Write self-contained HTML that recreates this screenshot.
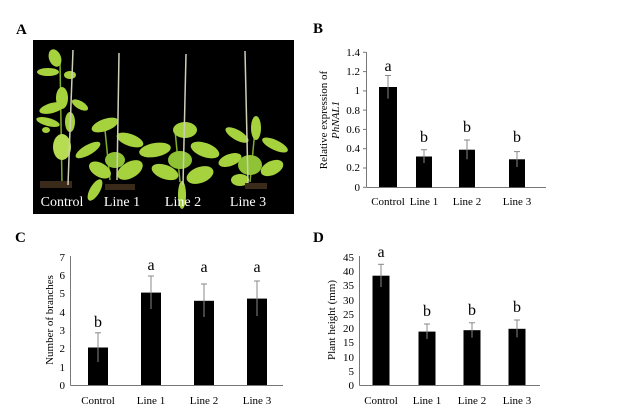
<!DOCTYPE html>
<html><head><style>body{margin:0;background:#fff}svg{display:block}</style></head><body>
<svg width="626" height="417" viewBox="0 0 626 417" font-family="Liberation Serif, serif" fill="#000">
<!-- Panel A -->
<text x="16" y="34" font-size="15" font-weight="bold">A</text>
<rect x="33" y="40" width="261" height="174" fill="#000"/>
<g stroke="#7fae2a" stroke-width="1.5">
<line x1="62" y1="185" x2="60" y2="60"/><line x1="110" y1="180" x2="105" y2="130"/>
<line x1="180" y1="182" x2="175" y2="130"/><line x1="250" y1="182" x2="255" y2="130"/>
</g>
<g fill="#a6d23e">
<!-- control -->
<ellipse cx="55" cy="58" rx="6" ry="9" transform="rotate(-20 55 58)"/>
<ellipse cx="48" cy="72" rx="11" ry="4"/><ellipse cx="70" cy="75" rx="6" ry="4"/>
<ellipse cx="52" cy="108" rx="13" ry="5" transform="rotate(-15 52 108)"/>
<ellipse cx="62" cy="98" rx="6" ry="11"/><ellipse cx="80" cy="105" rx="9" ry="4" transform="rotate(30 80 105)"/>
<ellipse cx="48" cy="122" rx="12" ry="4" transform="rotate(15 48 122)"/>
<ellipse cx="70" cy="122" rx="5" ry="10"/>
<ellipse cx="62" cy="147" rx="9" ry="13" fill="#b6dc52"/>
<ellipse cx="46" cy="130" rx="4" ry="3"/>
<!-- line1 -->
<ellipse cx="105" cy="125" rx="14" ry="6" transform="rotate(-20 105 125)"/>
<ellipse cx="88" cy="150" rx="14" ry="5" transform="rotate(-30 88 150)"/>
<ellipse cx="130" cy="140" rx="14" ry="6" transform="rotate(20 130 140)"/>
<ellipse cx="100" cy="170" rx="12" ry="7" transform="rotate(30 100 170)"/>
<ellipse cx="130" cy="170" rx="14" ry="8" transform="rotate(-30 130 170)"/>
<ellipse cx="115" cy="160" rx="10" ry="8" fill="#8fc234"/>
<ellipse cx="95" cy="190" rx="5" ry="12" transform="rotate(30 95 190)"/>
<!-- line2 -->
<ellipse cx="155" cy="150" rx="16" ry="7" transform="rotate(-10 155 150)"/>
<ellipse cx="185" cy="130" rx="12" ry="8"/>
<ellipse cx="205" cy="150" rx="15" ry="7" transform="rotate(20 205 150)"/>
<ellipse cx="165" cy="172" rx="14" ry="7" transform="rotate(20 165 172)"/>
<ellipse cx="200" cy="175" rx="14" ry="8" transform="rotate(-20 200 175)"/>
<ellipse cx="180" cy="160" rx="12" ry="9" fill="#8fc234"/>
<ellipse cx="182" cy="195" rx="4" ry="14"/>
<!-- line3 -->
<ellipse cx="237" cy="135" rx="13" ry="5" transform="rotate(30 237 135)"/>
<ellipse cx="256" cy="128" rx="5" ry="12"/>
<ellipse cx="275" cy="145" rx="14" ry="5" transform="rotate(25 275 145)"/>
<ellipse cx="230" cy="160" rx="12" ry="6" transform="rotate(-20 230 160)"/>
<ellipse cx="272" cy="168" rx="12" ry="7" transform="rotate(-25 272 168)"/>
<ellipse cx="250" cy="165" rx="12" ry="10" fill="#8fc234"/>
<ellipse cx="240" cy="180" rx="9" ry="6"/>
</g>
<g fill="#3a2a1a"><rect x="40" y="181" width="32" height="7"/><rect x="105" y="184" width="30" height="6"/><rect x="245" y="183" width="22" height="6"/></g>
<g stroke="#cfcfb8" stroke-width="1.5">
<line x1="73" y1="50" x2="68" y2="185"/><line x1="119" y1="53" x2="117" y2="180"/>
<line x1="186" y1="54" x2="183" y2="185"/><line x1="245" y1="51" x2="248" y2="183"/>
</g>
<g fill="#fff" font-size="14" text-anchor="middle">
<text x="62" y="206">Control</text><text x="122" y="206">Line 1</text>
<text x="183" y="206">Line 2</text><text x="248" y="206">Line 3</text>
</g>

<!-- Panel B -->
<text x="313" y="33" font-size="15" font-weight="bold">B</text>
<g stroke="#777" stroke-width="1" fill="none">
<line x1="366.5" y1="52" x2="366.5" y2="187.5"/><line x1="366.5" y1="187.5" x2="546" y2="187.5"/>
</g>
<g stroke="#777"><line x1="363" y1="52.3" x2="366" y2="52.3"/><line x1="363" y1="71.6" x2="366" y2="71.6"/><line x1="363" y1="90.9" x2="366" y2="90.9"/><line x1="363" y1="110.1" x2="366" y2="110.1"/><line x1="363" y1="129.4" x2="366" y2="129.4"/><line x1="363" y1="148.7" x2="366" y2="148.7"/><line x1="363" y1="168" x2="366" y2="168"/><line x1="363" y1="187.3" x2="366" y2="187.3"/></g>
<g font-size="11" text-anchor="end">
<text x="360" y="56">1.4</text><text x="360" y="75">1.2</text><text x="360" y="94">1</text><text x="360" y="114">0.8</text><text x="360" y="133">0.6</text><text x="360" y="152">0.4</text><text x="360" y="171">0.2</text><text x="360" y="191">0</text>
</g>
<rect x="379" y="87" width="18" height="100"/>
<rect x="416" y="156.5" width="16" height="31"/>
<rect x="459" y="149.7" width="16" height="37.6"/>
<rect x="509" y="159.3" width="16" height="28"/>
<g stroke="#888"><line x1="388" y1="75.5" x2="388" y2="98.6"/><line x1="385" y1="75.5" x2="391" y2="75.5"/>
<line x1="424" y1="149.7" x2="424" y2="163"/><line x1="421" y1="149.7" x2="427" y2="149.7"/>
<line x1="467" y1="140" x2="467" y2="159.3"/><line x1="464" y1="140" x2="470" y2="140"/>
<line x1="517" y1="151.6" x2="517" y2="167"/><line x1="514" y1="151.6" x2="520" y2="151.6"/></g>
<g font-size="16" text-anchor="middle"><text x="388" y="71">a</text><text x="424" y="142">b</text><text x="467" y="132">b</text><text x="517" y="142">b</text></g>
<g font-size="11" text-anchor="middle"><text x="388" y="205">Control</text><text x="424" y="205">Line 1</text><text x="467" y="205">Line 2</text><text x="517" y="205">Line 3</text></g>
<text transform="translate(327,120) rotate(-90)" font-size="11" text-anchor="middle">Relative expression of</text>
<text transform="translate(339,120) rotate(-90)" font-size="11" text-anchor="middle" font-style="italic">PhNAL1</text>

<!-- Panel C -->
<text x="15" y="242" font-size="15" font-weight="bold">C</text>
<g stroke="#777" fill="none"><line x1="70.5" y1="256" x2="70.5" y2="385.5"/><line x1="70.5" y1="385.5" x2="283" y2="385.5"/></g>
<g font-size="11" text-anchor="end">
<text x="65" y="261">7</text><text x="65" y="279">6</text><text x="65" y="297">5</text><text x="65" y="316">4</text><text x="65" y="334">3</text><text x="65" y="352">2</text><text x="65" y="371">1</text><text x="65" y="389">0</text>
</g>
<rect x="88" y="347.5" width="20" height="37.5"/>
<rect x="141" y="292.6" width="20" height="92.4"/>
<rect x="194" y="300.8" width="20" height="84.2"/>
<rect x="247" y="298.6" width="20" height="86.4"/>
<g stroke="#888"><line x1="98" y1="332.8" x2="98" y2="362"/><line x1="95" y1="332.8" x2="101" y2="332.8"/>
<line x1="151" y1="276" x2="151" y2="309"/><line x1="148" y1="276" x2="154" y2="276"/>
<line x1="204" y1="284" x2="204" y2="317"/><line x1="201" y1="284" x2="207" y2="284"/>
<line x1="257" y1="281" x2="257" y2="316"/><line x1="254" y1="281" x2="260" y2="281"/></g>
<g font-size="16" text-anchor="middle"><text x="98" y="327">b</text><text x="151" y="270">a</text><text x="204" y="272">a</text><text x="257" y="272">a</text></g>
<g font-size="11" text-anchor="middle"><text x="98" y="404">Control</text><text x="151" y="404">Line 1</text><text x="204" y="404">Line 2</text><text x="257" y="404">Line 3</text></g>
<text transform="translate(53,320) rotate(-90)" font-size="11" text-anchor="middle">Number of branches</text>

<!-- Panel D -->
<text x="313" y="242" font-size="15" font-weight="bold">D</text>
<g stroke="#777" fill="none"><line x1="359.5" y1="256" x2="359.5" y2="385.5"/><line x1="359.5" y1="385.5" x2="540" y2="385.5"/></g>
<g font-size="11" text-anchor="end">
<text x="354" y="261">45</text><text x="354" y="275">40</text><text x="354" y="289">35</text><text x="354" y="304">30</text><text x="354" y="318">25</text><text x="354" y="332">20</text><text x="354" y="346">15</text><text x="354" y="361">10</text><text x="354" y="375">5</text><text x="354" y="389">0</text>
</g>
<rect x="372.5" y="275.7" width="17" height="109.3"/>
<rect x="418.5" y="331.6" width="17" height="53.4"/>
<rect x="463.5" y="330.2" width="17" height="54.8"/>
<rect x="508.5" y="328.8" width="17" height="56.2"/>
<g stroke="#888"><line x1="381" y1="264.3" x2="381" y2="287"/><line x1="378" y1="264.3" x2="384" y2="264.3"/>
<line x1="427" y1="324" x2="427" y2="339"/><line x1="424" y1="324" x2="430" y2="324"/>
<line x1="472" y1="322.8" x2="472" y2="337.6"/><line x1="469" y1="322.8" x2="475" y2="322.8"/>
<line x1="517" y1="320" x2="517" y2="337.4"/><line x1="514" y1="320" x2="520" y2="320"/></g>
<g font-size="16" text-anchor="middle"><text x="381" y="257">a</text><text x="427" y="316">b</text><text x="472" y="315">b</text><text x="517" y="312">b</text></g>
<g font-size="11" text-anchor="middle"><text x="381" y="404">Control</text><text x="427" y="404">Line 1</text><text x="472" y="404">Line 2</text><text x="517" y="404">Line 3</text></g>
<text transform="translate(335,320) rotate(-90)" font-size="11" text-anchor="middle">Plant height (mm)</text>
</svg>
</body></html>
